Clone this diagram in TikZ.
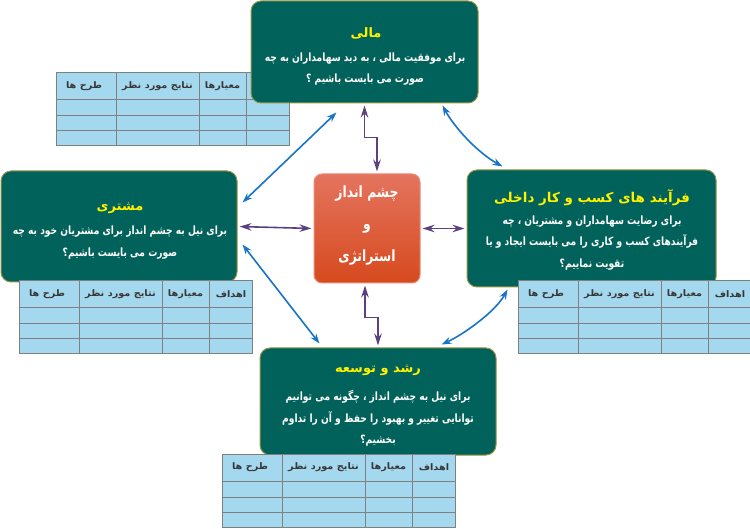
\documentclass[tikz,border=0pt]{standalone}
\usepackage{fontspec}
\newfontfamily\arabicfont[Script=Arabic]{DejaVu Sans}
\newfontfamily\arabicnarrow[Script=Arabic,FakeStretch=0.8]{DejaVu Sans}
\newfontfamily\arabicwide[Script=Arabic,FakeStretch=1.08]{DejaVu Sans}
\TeXXeTstate=1
\usetikzlibrary{arrows.meta,calc}
\definecolor{boxteal}{RGB}{0,98,90}
\definecolor{boxedge}{RGB}{150,150,70}
\definecolor{tblue}{RGB}{164,216,238}
\definecolor{tgrid}{RGB}{128,128,128}
\definecolor{parrowc}{RGB}{92,64,128}
\definecolor{barrowc}{RGB}{24,116,200}
\definecolor{ctop}{RGB}{228,116,94}
\definecolor{cbot}{RGB}{214,74,30}
\definecolor{cedge}{RGB}{236,140,120}
\definecolor{thead}{RGB}{55,55,55}
\tikzset{
  persp/.style={draw=boxedge, line width=1pt, fill=boxteal, rounded corners=10pt, inner sep=0pt},
  ttl/.style={text=yellow, inner sep=0pt, font=\arabicfont\bfseries\fontsize{13}{15}\selectfont},
  bodytxt/.style={text=white, align=center, inner sep=0pt, font=\arabicnarrow\bfseries\fontsize{11.4}{21.5}\selectfont},
  hdr/.style={text=thead, inner sep=0pt, font=\arabicwide\bfseries\fontsize{9}{10}\selectfont},
  parr/.style={draw=parrowc, line width=1.6pt, shorten <=2pt, shorten >=2pt,
    {Stealth[length=12pt,width=7.5pt]}-{Stealth[length=12pt,width=7.5pt]}},
  barr/.style={draw=barrowc, line width=1.6pt,
    {Stealth[length=10pt,width=7pt]}-{Stealth[length=10pt,width=7pt]}},
}
\newcommand{\kpitab}[3]{%
  \fill[tblue] (#1,#2) rectangle ++(233,73);
  \draw[tgrid, line width=1pt] (#1,#2) rectangle ++(233,73);
  \draw[tgrid, line width=1pt] ({#1},{#2+27}) -- ++(233,0);
  \draw[tgrid, line width=1pt] ({#1},{#2+43}) -- ++(233,0);
  \draw[tgrid, line width=1pt] ({#1},{#2+58}) -- ++(233,0);
  \draw[tgrid, line width=1pt] ({#1+60},{#2}) -- ++(0,73);
  \draw[tgrid, line width=1pt] ({#1+143},{#2}) -- ++(0,73);
  \draw[tgrid, line width=1pt] ({#1+190},{#2}) -- ++(0,73);
  \node[hdr] (#3a) at ({#1+28},{#2+13.5}) {\beginR طرح ها\endR};
  \node[hdr] (#3b) at ({#1+101.5},{#2+13.5}) {\beginR نتایج مورد نظر\endR};
  \node[hdr] (#3c) at ({#1+166.5},{#2+13.5}) {\beginR معیارها\endR};
  \node[hdr] (#3d) at ({#1+212},{#2+13.5}) {\beginR اهداف\endR};
}
\begin{document}
\begin{tikzpicture}[x=1pt,y=-1pt]
\useasboundingbox (0,0) rectangle (750,529);
\fill[white] (0,0) rectangle (750,529);

% top table (under top box)
\kpitab{56}{73}{tt}
% top box
\node[persp, minimum width=227pt, minimum height=102pt] (top) at (364.5,52) {};
\node[ttl] (topT) at (366,33) {\beginR مالی\endR};
\node[bodytxt] (topB) at (365,69) {\beginR برای موفقیت مالی ، به دید سهامداران به چه\endR\\ \beginR صورت می بایست باشیم ؟\endR};

% left box
\node[persp, minimum width=236pt, minimum height=111pt] (left) at (119,226.5) {};
\node[ttl] (leftT) at (120,208) {\beginR مشتری\endR};
\node[bodytxt] (leftB) at (120,242.5) {\beginR برای نیل به چشم انداز برای مشتریان خود به چه\endR\\ \beginR صورت می بایست باشیم؟\endR};

% right box
\node[persp, minimum width=249pt, minimum height=117pt] (right) at (591.5,228.5) {};
\node[ttl, font=\arabicfont\bfseries\fontsize{13.5}{15}\selectfont] (rightT) at (592,198) {\beginR فرآیند های کسب و کار داخلی\endR};
\node[bodytxt] (rightB) at (592,243) {\beginR برای رضایت سهامداران و مشتریان ، چه\endR\\ \beginR فرآیندهای کسب و کاری را می بایست ایجاد و یا\endR\\ \beginR تقویت نماییم؟\endR};

% bottom box
\node[persp, minimum width=236pt, minimum height=107pt] (bottom) at (378,401.5) {};
\node[ttl] (bottomT) at (378,370) {\beginR رشد و توسعه\endR};
\node[bodytxt] (bottomB) at (378,418.5) {\beginR برای نیل به چشم انداز ، چگونه می توانیم\endR\\ \beginR توانایی  تغییر و بهبود را حفظ و آن را تداوم\endR\\ \beginR بخشیم؟\endR};

% tables over the boxes
\kpitab{19}{281}{lt}
\kpitab{518}{281}{rt}
\kpitab{222}{454}{bt}

% center box
\node[draw=cedge, line width=1pt, top color=ctop, bottom color=cbot, rounded corners=8pt,
      minimum width=106pt, minimum height=109pt, inner sep=0pt] (ctr) at (367,228.5) {};
\node[text=white, align=center, inner sep=0pt, font=\arabicnarrow\bfseries\fontsize{15.5}{32}\selectfont]
  (ctrT) at (367,226) {\beginR چشم انداز\endR\\ \beginR و\endR\\ \beginR استراتژی\endR};

% purple arrows
\draw[parr] (ctr.west) -- (left.east);
\draw[parr] (ctr.east) -- (right.west);
\draw[parr] (top.south) -- ++(0,34) -| ([xshift=10pt]ctr.north);
\draw[parr] ([xshift=-2pt]ctr.south) -- ++(0,34) -| (bottom.north);

% blue arrows
\draw[barr] ($(top.south west)+(86,9)$) -- ($(left.north east)+(5,32)$);
\draw[barr] ($(top.south east)+(-36,2)$) .. controls +(12,22) and +(-25,-14) .. ($(right.north west)+(36,-3)$);
\draw[barr] ($(left.east)+(5,18)$) -- ($(bottom.north west)+(60,-4)$);
\draw[barr] ($(bottom.north east)+(-55,-3)$) .. controls +(22,-10) and +(-12,22) .. ($(right.south west)+(41,2)$);
\end{tikzpicture}
\end{document}
